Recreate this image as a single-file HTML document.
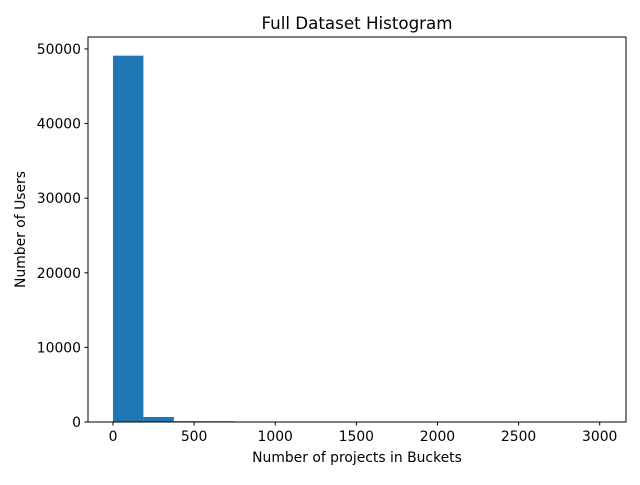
<!DOCTYPE html>
<html><head><meta charset="utf-8"><style>
body{margin:0;background:#fff;}
text{font-family:"DejaVu Sans","Liberation Sans",sans-serif;fill:#000;}
</style></head><body>
<svg id="chart" width="640" height="480">
<rect width="640" height="480" fill="#fff"/>
<text x="357" y="29" font-size="16.7" text-anchor="middle">Full Dataset Histogram</text>
<g id="bars"></g>
<g id="axes"></g>
<text x="357" y="462" font-size="13.9" text-anchor="middle">Number of projects in Buckets</text>
<text transform="translate(25,229.5) rotate(-90)" font-size="13.9" text-anchor="middle">Number of Users</text>
</svg>
<script>
const binStart = 0;
const binWidth = 187.5;
const counts = [49100, 670, 110, 100, 25, 10, 5, 3, 2, 1, 1, 0, 1, 0, 0, 1];
const xTicks = [0, 500, 1000, 1500, 2000, 2500, 3000];
const yTicks = [0, 10000, 20000, 30000, 40000, 50000];
const L=88,R=626,T=37,B=422;
const xmin=-154,xmax=3162,ymin=0,ymax=51600;
const xs=v=>L+(v-xmin)/(xmax-xmin)*(R-L);
const ys=v=>B-(v-ymin)/(ymax-ymin)*(B-T);
const NS="http://www.w3.org/2000/svg";
const bars=document.getElementById('bars'),axes=document.getElementById('axes');
function mk(tag,attrs,parent){const e=document.createElementNS(NS,tag);for(const k in attrs)e.setAttribute(k,attrs[k]);parent.appendChild(e);return e;}
counts.forEach((c,i)=>{
  const x0=xs(binStart+i*binWidth),x1=xs(binStart+(i+1)*binWidth);
  const r=mk('rect',{x:x0,y:ys(c),width:x1-x0,height:Math.max(0,B-ys(c)),fill:'#1f77b4'},bars);
  
  
});
const frame=mk('rect',{x:L,y:T,width:R-L,height:B-T,fill:'none',stroke:'#000','stroke-width':1},axes);


xTicks.forEach(v=>{
  const x=xs(v);
  mk('line',{x1:x,x2:x,y1:B,y2:B+3.5,stroke:'#000'},axes);
  const t=mk('text',{x:x,y:B+19,'font-size':13.9,'text-anchor':'middle'},axes);
  t.textContent=v;
  
  
});
yTicks.forEach(v=>{
  const y=ys(v);
  mk('line',{x1:L-3.5,x2:L,y1:y,y2:y,stroke:'#000'},axes);
  const t=mk('text',{x:L-7,y:y+5,'font-size':13.9,'text-anchor':'end'},axes);
  t.textContent=v;
  
  
});
</script>
</body></html>
